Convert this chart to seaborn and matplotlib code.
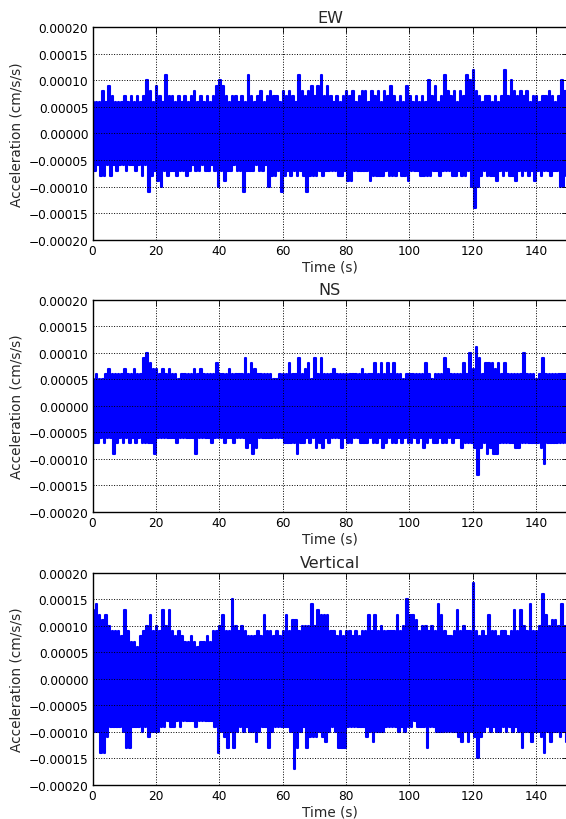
import numpy as np
import pandas as pd
import matplotlib
matplotlib.use("Agg")
import matplotlib.pyplot as plt
import seaborn as sns

# ---- data (per-second peak envelopes, in units of 1e-5 cm/s/s) ----
seconds = np.arange(150)
scale = 1e-5

ew_upper = [6,6,6,8,6,9,7,6,6,6, 7,6,7,6,7,6,7,10,8,6, 9,7,6,11,7,7,6,7,6,7,
            6,7,8,6,7,6,7,6,7,9, 10,9,7,6,7,7,6,7,6,11, 7,6,7,8,6,7,8,7,7,6,
            8,7,8,7,6,11,8,7,8,9, 7,9,11,7,9,7,6,7,6,7, 8,7,8,6,7,8,8,6,8,7,
            8,6,8,7,9,7,6,7,6,9, 7,6,7,6,7,6,10,7,9,6, 7,11,8,7,8,6,8,7,11,10,
            12,8,7,6,7,7,6,7,6,7, 12,7,10,8,7,8,7,8,6,7, 7,6,7,7,8,7,6,7,10,8]
ew_lower = [-7,-6,-8,-8,-6,-8,-6,-7,-6,-6, -7,-6,-6,-7,-6,-8,-6,-11,-8,-7,
            -9,-10,-7,-8,-7,-7,-8,-7,-7,-8, -7,-6,-7,-7,-6,-7,-7,-6,-7,-10,
            -7,-9,-7,-7,-6,-7,-7,-11,-7,-7, -7,-6,-7,-7,-6,-10,-8,-8,-7,-11,
            -8,-7,-8,-7,-8,-7,-8,-11,-8,-8, -8,-7,-8,-7,-7,-7,-7,-8,-8,-7,
            -9,-9,-7,-7,-7,-7,-7,-9,-8,-8, -8,-8,-7,-8,-8,-8,-7,-8,-8,-9,
            -7,-7,-7,-8,-8,-8,-8,-7,-7,-8, -7,-7,-7,-8,-8,-7,-8,-8,-7,-10,
            -14,-10,-8,-7,-8,-8,-8,-9,-7,-8, -7,-8,-8,-9,-7,-8,-7,-8,-7,-9,
            -7,-8,-7,-7,-8,-7,-7,-10,-10,-8]

ns_upper = [5,6,5,5,6,7,6,6,6,6, 7,6,6,7,6,6,9,10,8,7, 7,6,7,6,7,6,6,5,6,6,
            6,6,7,6,7,6,6,6,6,8, 6,6,6,7,6,6,6,6,9,6, 8,7,6,6,6,6,6,5,5,6,
            6,6,8,6,6,9,6,7,8,5, 9,6,9,6,6,6,7,6,6,6, 6,6,6,6,6,7,6,6,6,8,
            6,8,6,8,6,8,6,6,5,6, 6,6,6,6,6,8,6,5,6,6, 6,9,7,6,6,6,6,8,6,10,
            7,11,9,6,8,8,8,7,8,6, 8,6,6,6,6,6,10,6,6,6, 5,6,9,6,6,6,6,6,6,6]
ns_lower = [-7,-7,-6,-7,-6,-6,-9,-7,-6,-7, -6,-7,-6,-7,-6,-7,-7,-7,-7,-9,
            -6,-6,-6,-6,-6,-6,-7,-6,-6,-6, -6,-6,-9,-6,-6,-6,-6,-7,-6,-6,
            -6,-7,-6,-6,-7,-6,-6,-6,-8,-7, -9,-8,-6,-6,-6,-6,-6,-6,-6,-6,
            -7,-7,-7,-7,-9,-7,-7,-6,-7,-6, -8,-7,-8,-6,-7,-6,-6,-6,-8,-6,
            -7,-7,-6,-6,-7,-7,-7,-6,-7,-7, -6,-8,-7,-6,-7,-7,-6,-7,-6,-7,
            -7,-6,-7,-6,-8,-7,-6,-7,-7,-6, -7,-7,-6,-7,-6,-6,-8,-7,-7,-7,
            -8,-13,-8,-7,-9,-8,-9,-9,-7,-7, -7,-7,-7,-8,-8,-7,-7,-7,-7,-7,
            -7,-8,-11,-7,-7,-7,-7,-7,-7,-7]

vt_upper = [13,14,12,11,12,10,9,9,9,8, 13,9,7,7,6,8,9,10,12,9, 10,9,13,10,13,9,8,9,8,7,
            7,8,7,6,7,7,8,7,9,9, 10,12,9,9,15,10,9,10,9,8, 8,8,9,8,12,9,9,8,9,8,
            9,12,9,11,11,9,10,10,10,14, 10,13,12,12,12,9,9,8,9,8, 9,9,8,9,8,9,9,12,9,12,
            9,10,9,9,9,9,12,9,10,15, 12,12,11,9,10,10,9,10,9,14, 12,9,8,8,9,13,9,10,9,9,
            18,9,8,9,8,12,9,9,8,9, 9,8,9,13,9,13,10,9,14,9, 9,10,16,12,10,11,11,10,14,10]
vt_lower = [-10,-10,-14,-14,-11,-9,-9,-9,-9,-10, -13,-13,-9,-9,-9,-10,-9,-11,-10,-10,
            -10,-9,-9,-8,-9,-9,-8,-9,-8,-8, -8,-8,-9,-8,-8,-8,-8,-8,-9,-14,
            -10,-11,-13,-10,-13,-10,-9,-10,-9,-10, -10,-12,-10,-9,-9,-13,-10,-9,-9,-9,
            -9,-9,-10,-17,-13,-10,-9,-13,-11,-11, -11,-10,-11,-12,-10,-9,-10,-13,-13,-13,
            -9,-9,-9,-9,-9,-9,-11,-10,-12,-10, -10,-10,-9,-9,-9,-9,-10,-9,-10,-9,
            -9,-8,-9,-9,-9,-13,-9,-9,-10,-10, -10,-10,-10,-10,-10,-11,-12,-10,-12,-10,
            -11,-15,-11,-10,-9,-10,-9,-10,-10,-9, -10,-9,-10,-9,-10,-13,-10,-10,-12,-10,
            -10,-11,-14,-10,-12,-10,-10,-11,-10,-12]

titles = ["EW", "NS", "Vertical"]
yticks = [-0.00020, -0.00015, -0.00010, -0.00005, 0.0, 0.00005, 0.00010, 0.00015, 0.00020]
xticks = [0, 20, 40, 60, 80, 100, 120, 140]

def zigzag(upper, lower):
    t = np.column_stack([seconds + 0.25, seconds + 0.75]).ravel()
    v = np.column_stack([np.array(upper), np.array(lower)]).ravel() * scale
    return pd.DataFrame({"Time (s)": t, "acc": v})

sns.set_theme(style="white")
plt.rcParams.update({
    "font.family": ["DejaVu Sans"],
    "xtick.direction": "in", "ytick.direction": "in",
    "xtick.top": True, "ytick.right": True,
    "xtick.major.size": 4, "ytick.major.size": 4,
    "xtick.major.width": 0.6, "ytick.major.width": 0.6,
    "xtick.color": "black", "ytick.color": "black",
    "axes.edgecolor": "black", "axes.linewidth": 1.0,
})

fig = plt.figure(figsize=(5.66, 8.2), dpi=100)
bottoms = [0.7065, 0.3744, 0.0415]
height = 0.259
left = 92.5 / 566
width = 475 / 566

series = [(ew_upper, ew_lower), (ns_upper, ns_lower), (vt_upper, vt_lower)]
for k, (up, lo) in enumerate(series):
    ax = fig.add_axes([left, bottoms[k], width, height])
    df = zigzag(up, lo)
    sns.lineplot(data=df, x="Time (s)", y="acc", ax=ax, color="#0000ff",
                 linewidth=1.5, estimator=None, sort=False, drawstyle="steps-mid")
    ax.set_xlim(0, 150)
    ax.set_ylim(-0.0002, 0.0002)
    ax.set_yticks(yticks)
    ax.set_yticklabels([f"{v:.5f}".replace("-", "\u2212") for v in yticks], fontsize=8.7)
    ax.set_xticks(xticks)
    ax.set_xticklabels([str(v) for v in xticks], fontsize=8.7)
    ax.grid(True, color="black", linestyle=":", linewidth=0.7)
    ax.set_axisbelow(False)
    ax.set_xlabel("Time (s)", fontsize=9.8, labelpad=2)
    ax.set_ylabel("Acceleration (cm/s/s)", fontsize=9.8, labelpad=4)
    ax.set_title(titles[k], fontsize=11.5, pad=4)
    ax.tick_params(axis="both", pad=3)

fig.savefig("out.png", dpi=100, facecolor="white")
